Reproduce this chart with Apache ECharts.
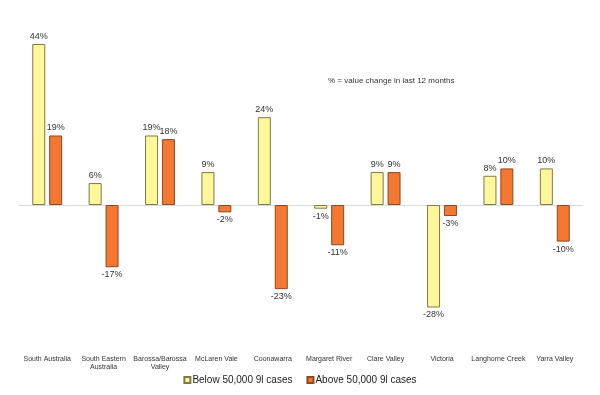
<!DOCTYPE html>
<html><head><meta charset="utf-8">
<script src="https://cdn.jsdelivr.net/npm/echarts@6/dist/echarts.min.js"></script>
<style>html,body{margin:0;padding:0;background:#fff}#c{width:600px;height:395px}</style>
</head><body><div id="c"></div>
<script>
const categories = ["South Australia","South Eastern\nAustralia","Barossa/Barossa\nValley","McLaren Vale","Coonawarra","Margaret River","Clare Valley","Victoria","Langhorne Creek","Yarra Valley"];
const below = [44, 6, 19, 9, 24, -1, 9, -28, 8, 10];
const above = [19, -17, 18, -2, -23, -11, 9, -3, 10, -10];
const seriesNames = ["Below 50,000 9l cases", "Above 50,000 9l cases"];
const note = "% = value change in last 12 months";

function items(arr) {
  return arr.map(v => ({ value: v, label: { position: v < 0 ? 'bottom' : 'top' } }));
}
const chart = echarts.init(document.getElementById('c'));
chart.setOption({
  animation: false,
  grid: { left: 19, right: 17, top: 44, bottom: 87.5 },
  legend: {
    bottom: 5, left: 'center', itemWidth: 6, itemHeight: 6, itemGap: 14,
    textStyle: { fontSize: 10, color: '#222', fontFamily: 'Liberation Sans, Arial', padding: [0, 0, 0, -3] },
    data: [{ name: seriesNames[0], icon: 'rect' }, { name: seriesNames[1], icon: 'rect' }]
  },
  graphic: [{ type: 'text', left: 328, top: 77, style: { text: note, fontSize: 8, fill: '#333', fontFamily: 'Liberation Sans, Arial' } }],
  xAxis: [
    { type: 'category', data: categories, position: 'bottom',
      axisLine: { show: false, onZero: false }, axisTick: { show: false },
      axisLabel: { margin: 48, fontSize: 7, color: '#333', lineHeight: 8, fontFamily: 'Liberation Sans, Arial', interval: 0 } },
    { type: 'category', data: categories, position: 'bottom',
      axisLine: { show: true, onZero: true, lineStyle: { color: '#d9d9d9', width: 1 } },
      axisTick: { show: false }, axisLabel: { show: false } }
  ],
  yAxis: { type: 'value', min: -28, max: 44, show: false, splitLine: { show: false } },
  series: [
    { name: seriesNames[0], type: 'bar', xAxisIndex: 0, data: items(below), barWidth: 13, barGap: '30%',
      itemStyle: { color: '#FFF799', borderColor: '#7d7a4a', borderWidth: 1 },
      label: { show: true, formatter: '{c}%', fontSize: 9, color: '#333', distance: 3, fontFamily: 'Liberation Sans, Arial' } },
    { name: seriesNames[1], type: 'bar', xAxisIndex: 0, data: items(above), barWidth: 13, barGap: '30%',
      itemStyle: { color: '#F47732', borderColor: '#8a4a22', borderWidth: 1 },
      label: { show: true, formatter: '{c}%', fontSize: 9, color: '#333', distance: 3, fontFamily: 'Liberation Sans, Arial' } }
  ]
});
</script></body></html>
